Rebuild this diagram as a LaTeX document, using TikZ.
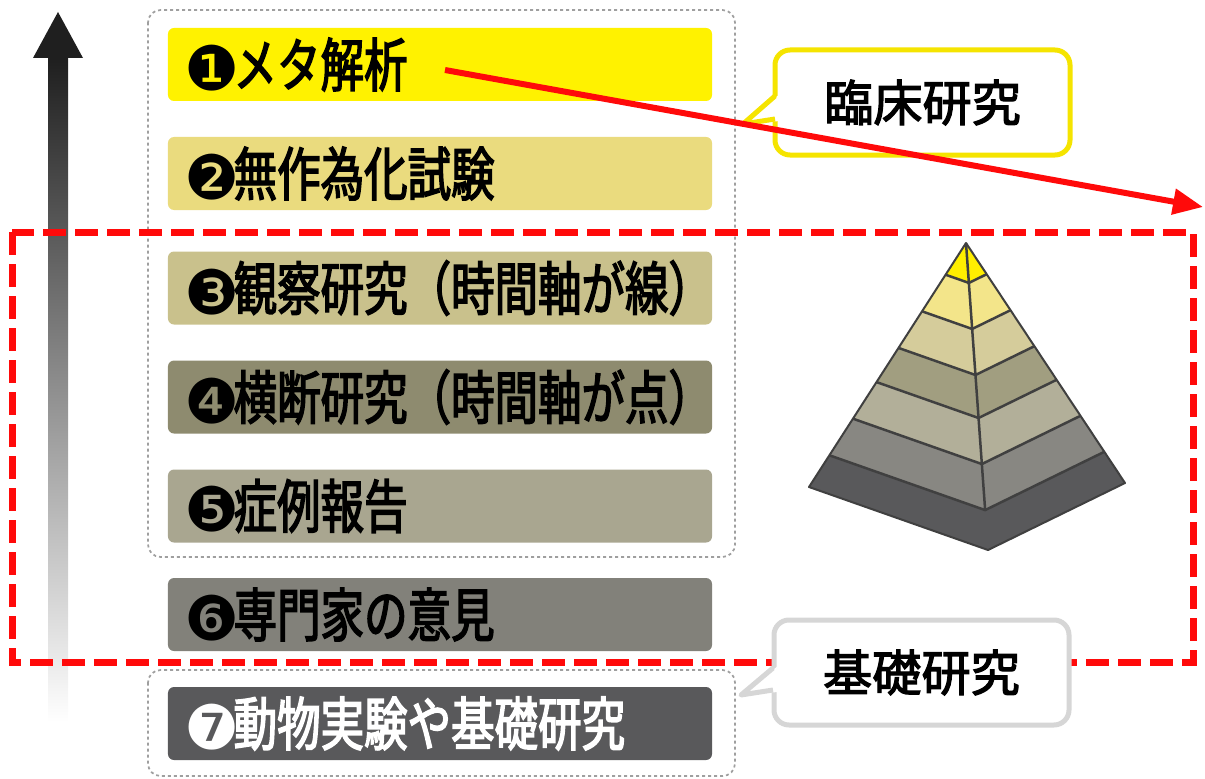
\documentclass[tikz,border=0pt]{standalone}
\usepackage{fontspec}
\setmainfont{Noto Sans CJK JP}
\newfontfamily\rungfont{Noto Sans CJK JP}[FakeStretch=0.75, FakeBold=2.5]
\newfontfamily\notefont{Noto Sans CJK JP}[FakeBold=2.5]
\newfontfamily\dingfont{DejaVu Sans}
\usetikzlibrary{calc}
\usetikzlibrary{positioning}
\usetikzlibrary{arrows.meta}

% level colours, top to bottom
\definecolor{lvA}{HTML}{FFF200}
\definecolor{lvB}{HTML}{EADB7E}
\definecolor{lvC}{HTML}{C9C18C}
\definecolor{lvD}{HTML}{8E8B6F}
\definecolor{lvE}{HTML}{A9A690}
\definecolor{lvF}{HTML}{82817A}
\definecolor{lvG}{HTML}{59595B}
% pyramid bands
\definecolor{pyA}{HTML}{FFEE00}
\definecolor{pyB}{HTML}{F3E58A}
\definecolor{pyC}{HTML}{D5CC9B}
\definecolor{pyD}{HTML}{A19E80}
\definecolor{pyE}{HTML}{B2AF99}
\definecolor{pyF}{HTML}{888782}
\definecolor{pyG}{HTML}{59595B}
\definecolor{pyline}{HTML}{404040}
\definecolor{arrowdark}{HTML}{1F1F1F}
\definecolor{noteyellow}{HTML}{F5E400}
\definecolor{notegrey}{HTML}{D6D6D6}
\definecolor{zonered}{HTML}{FF0A0A}

\newcommand{\circnum}[1]{\raisebox{-0.8mm}{\dingfont\fontsize{35}{35}\selectfont #1}\hspace{-1.3mm}}

\begin{document}
\begin{tikzpicture}[
	x = 0.2mm, y = -0.2mm,
	rung/.style = {
	  rectangle, rounded corners = 1.2mm,
	  minimum width = 108.8mm, minimum height = 14.6mm,
	  text width = 102mm, inner xsep = 3.4mm, align = left,
	  font = \rungfont\fontsize{33}{34}\selectfont,
	},
	group/.style = {
	  draw = gray!75, line width = 0.35mm, rounded corners = 2.5mm,
	  dash pattern = on 0.6mm off 0.6mm,
	},
	note/.style = {
	  rectangle, rounded corners = 3mm, fill = white, line width = 1mm,
	  minimum width = 59mm, minimum height = 21mm,
	  font = \notefont\fontsize{28}{30}\selectfont,
	},
	zone/.style = {
	  draw = zonered, line width = 1.4mm,
	  dash pattern = on 4.6mm off 1.8mm,
	},
  ]
  \useasboundingbox (0,0) rectangle (1205,779);

  % evidence arrow, fading out downwards
  \shade[top color = arrowdark, bottom color = white] (48,58) rectangle (68,722);
  \fill[arrowdark] (58,12) -- (83,58) -- (33,58) -- cycle;

  % dotted groups
  \draw[group] (148,10) rectangle (735,557);
  \draw[group] (148,670) rectangle (735,776);

  % the seven levels
  \foreach \i/\y/\c/\d/\t in {
	  1/64.5/lvA/❶/メタ解析,
	  2/173.5/lvB/❷/無作為化試験,
	  3/288/lvC/❸/観察研究（時間軸が線）,
	  4/397/lvD/❹/横断研究（時間軸が点）,
	  5/506/lvE/❺/症例報告,
	  6/614.5/lvF/❻/専門家の意見} {
	\node[rung, fill = \c] (rung\i) at (440,\y) {\mbox{\circnum{\d}\t}};
  }
  \node[rung, fill = lvG, text = white] (rung7) at (440,723.5)
	{\mbox{\circnum{❼}動物実験や基礎研究}};

  \draw[zone] (12,232) rectangle (1193,662);

  % pyramid
  \coordinate (apex) at (966,243);
  \coordinate (pl) at (809,487);
  \coordinate (pf) at (988,550);
  \coordinate (pr) at (1125,483);
  \foreach \ta/\tb/\c in {0/.13/pyA, .13/.28/pyB, .28/.43/pyC, .43/.57/pyD,
	  .57/.72/pyE, .72/.87/pyF, .87/1/pyG} {
	\fill[\c] ($(apex)!\ta!(pl)$) -- ($(apex)!\tb!(pl)$) -- ($(apex)!\tb!(pf)$)
	  -- ($(apex)!\tb!(pr)$) -- ($(apex)!\ta!(pr)$) -- ($(apex)!\ta!(pf)$) -- cycle;
  }
  \foreach \t in {.13,.28,.43,.57,.72,.87} {
	\draw[pyline, line width = 0.5mm]
	  ($(apex)!\t!(pl)$) -- ($(apex)!\t!(pf)$) -- ($(apex)!\t!(pr)$);
  }
  \draw[pyline, line width = 0.5mm] (apex) -- ($(apex)!.87!(pf)$);
  \draw[pyline, line width = 0.4mm, line join = round]
	(apex) -- (pl) -- (pf) -- (pr) -- cycle;

  % callouts
  \node[note, draw = noteyellow] (rinsho) at (922.5,102.5) {臨床研究};
  \fill[white] (780,94) -- (743,124) -- (780,121) -- cycle;
  \draw[noteyellow, line width = 1mm, line join = round]
	(775,96) -- (743,124) -- (775,119);

  \node[note, draw = notegrey] (kiso) at (921.5,672.5) {基礎研究};
  \fill[white] (778,666) -- (741,695) -- (778,692) -- cycle;
  \draw[notegrey, line width = 1mm, line join = round]
	(773,668) -- (741,695) -- (773,690);

  % link from the top level to the pyramid
  \coordinate (metaend) at (445,70);
  \coordinate (rtip) at (1203,207);
  \draw[zonered, line width = 1.2mm, -{Triangle[length = 6mm, width = 5mm]}]
	(metaend) -- (rtip);
\end{tikzpicture}
\end{document}
